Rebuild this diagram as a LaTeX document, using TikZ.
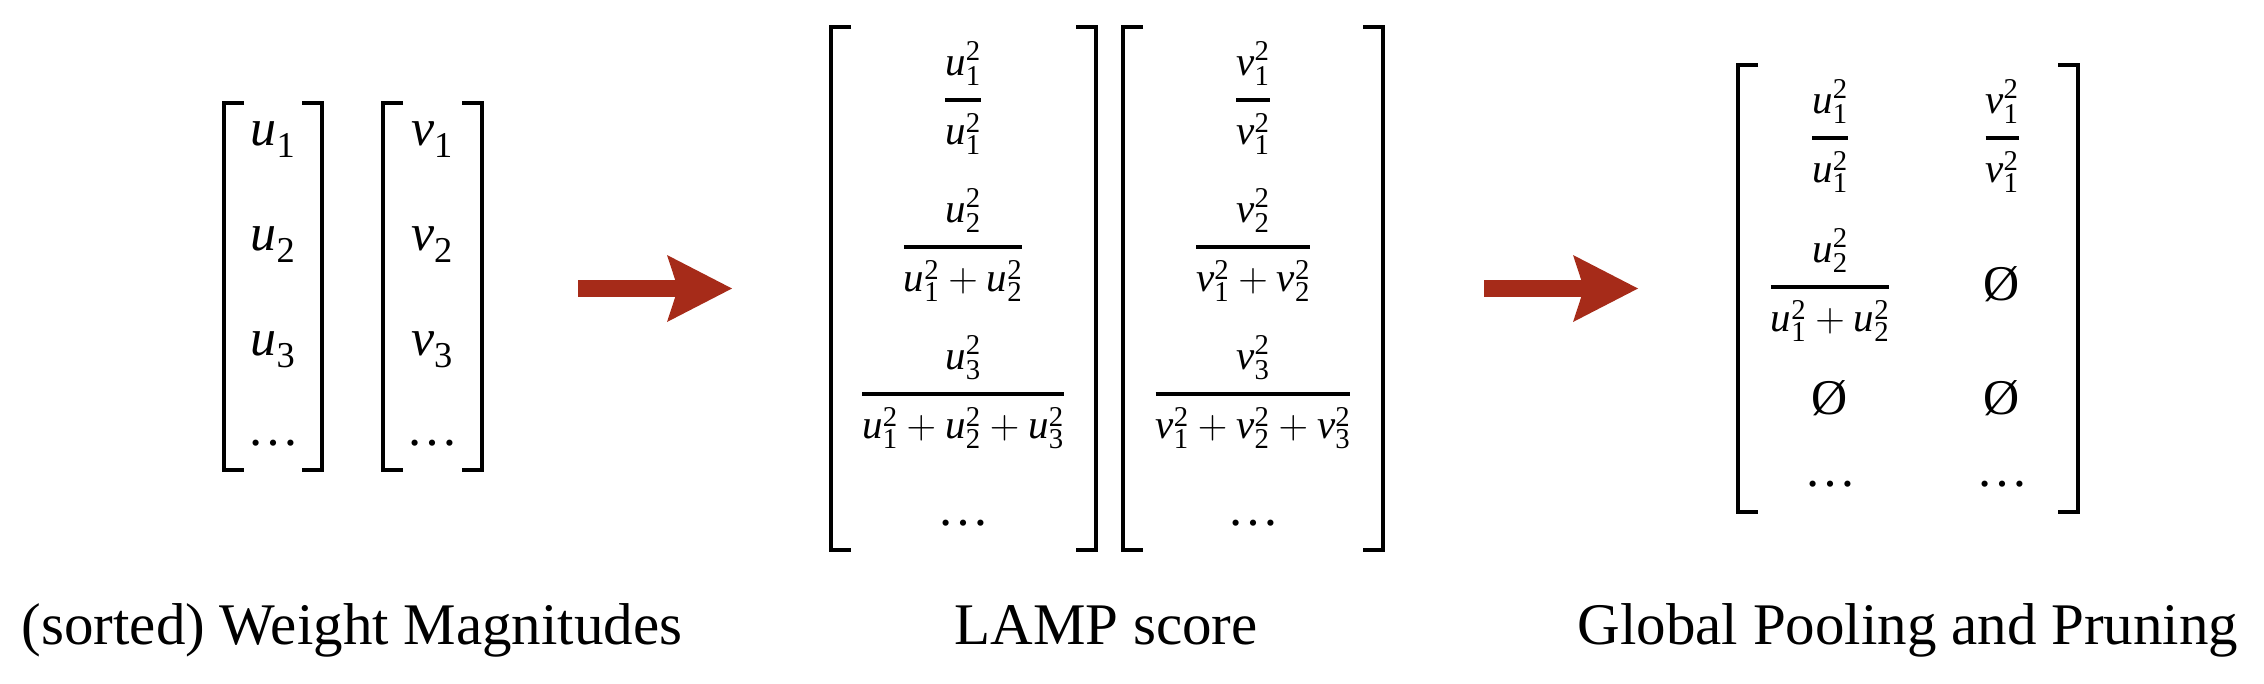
\RequirePackage{fix-cm}
\documentclass[tikz,border=0pt]{standalone}
\usepackage{fontspec}
\setmainfont{Liberation Serif}
\usetikzlibrary{arrows.meta}
\definecolor{arrowred}{RGB}{166,43,25}
\newcommand\vu[2][]{\mathit{u}_{\mathrm{#2}}^{\mathrm{#1}}}
\newcommand\vv[2][]{\mathit{v}_{\mathrm{#2}}^{\mathrm{#1}}}
\newcommand\fr[2]{\displaystyle{{#1}\above 4pt{#2}}}
\newcommand\dts{\fontsize{52}{60}\selectfont …}
\tikzset{x=1pt,y=-1pt,
  brk/.style={line width=3.5pt,line cap=butt,miter limit=10},
  bigarrow/.style={arrowred,line width=17pt,-{Stealth[length=65pt,width=67pt,inset=11pt,line width=0pt]}},
  lbl/.style={anchor=base,inner sep=0pt,font=\fontsize{59}{70}\selectfont},
  bigent/.style={anchor=base,inner sep=0pt,font=\fontsize{52}{60}\selectfont},
  mident/.style={anchor=base,inner sep=0pt,font=\fontsize{41}{50}\selectfont},
  empent/.style={anchor=base,inner sep=0pt,font=\fontsize{50}{60}\selectfont}}
\begin{document}
\begin{tikzpicture}
\useasboundingbox (0,0) rectangle (2264,683);
% ---- left: weight magnitudes
\draw[brk] (244,103) -- (224,103) -- (224,470) -- (244,470);
\draw[brk] (302,103) -- (322,103) -- (322,470) -- (302,470);
\draw[brk] (403,103) -- (383,103) -- (383,470) -- (403,470);
\draw[brk] (462,103) -- (482,103) -- (482,470) -- (462,470);
\node[bigent] (u1) at (273,145) {$\vu{1}$};
\node[bigent] (u2) at (273,250) {$\vu{2}$};
\node[bigent] (u3) at (273,355) {$\vu{3}$};
\node[bigent] (ud) at (273,445) {\dts};
\node[bigent] (v1) at (432,145) {$\vv{1}$};
\node[bigent] (v2) at (432,250) {$\vv{2}$};
\node[bigent] (v3) at (432,355) {$\vv{3}$};
\node[bigent] (vd) at (432,445) {\dts};
% ---- middle: LAMP score
\draw[brk] (851,27) -- (831,27) -- (831,550) -- (851,550);
\draw[brk] (1076,27) -- (1096,27) -- (1096,550) -- (1076,550);
\draw[brk] (1143,27) -- (1123,27) -- (1123,550) -- (1143,550);
\draw[brk] (1363,27) -- (1383,27) -- (1383,550) -- (1363,550);
\node[mident] (l1) at (963,110) {$\fr{\vu[2]{1}}{\vu[2]{1}}$};
\node[mident] (l2) at (963,257) {$\fr{\vu[2]{2}}{\vu[2]{1}+\vu[2]{2}}$};
\node[mident] (l3) at (963,404) {$\fr{\vu[2]{3}}{\vu[2]{1}+\vu[2]{2}+\vu[2]{3}}$};
\node[mident] (l4) at (963,525) {\dts};
\node[mident] (m1) at (1253,110) {$\fr{\vv[2]{1}}{\vv[2]{1}}$};
\node[mident] (m2) at (1253,257) {$\fr{\vv[2]{2}}{\vv[2]{1}+\vv[2]{2}}$};
\node[mident] (m3) at (1253,404) {$\fr{\vv[2]{3}}{\vv[2]{1}+\vv[2]{2}+\vv[2]{3}}$};
\node[mident] (m4) at (1253,525) {\dts};
% ---- right: global pooling and pruning
\draw[brk] (1758,65) -- (1738,65) -- (1738,512) -- (1758,512);
\draw[brk] (2058,65) -- (2078,65) -- (2078,512) -- (2058,512);
\node[mident] (g1) at (1830,148) {$\fr{\vu[2]{1}}{\vu[2]{1}}$};
\node[mident] (g2) at (1830,297) {$\fr{\vu[2]{2}}{\vu[2]{1}+\vu[2]{2}}$};
\node[empent] (g3) at (1830,414) {Ø};
\node[mident] (g4) at (1830,486) {\dts};
\node[mident] (h1) at (2002,148) {$\fr{\vv[2]{1}}{\vv[2]{1}}$};
\node[empent] (h2) at (2002,300) {Ø};
\node[empent] (h3) at (2002,414) {Ø};
\node[mident] (h4) at (2002,486) {\dts};
% ---- arrows
\coordinate (a1s) at (578,288.5);
\coordinate (a1e) at (732,288.5);
\coordinate (a2s) at (1484,288.5);
\coordinate (a2e) at (1638,288.5);
\draw[bigarrow] (a1s) -- (a1e);
\draw[bigarrow] (a2s) -- (a2e);
% ---- labels
\node[lbl] (t1) at (352,644) {(sorted) Weight Magnitudes};
\node[lbl] (t2) at (1106,644) {LAMP score};
\node[lbl] (t3) at (1908,644) {Global Pooling and Pruning};
\end{tikzpicture}
\end{document}
